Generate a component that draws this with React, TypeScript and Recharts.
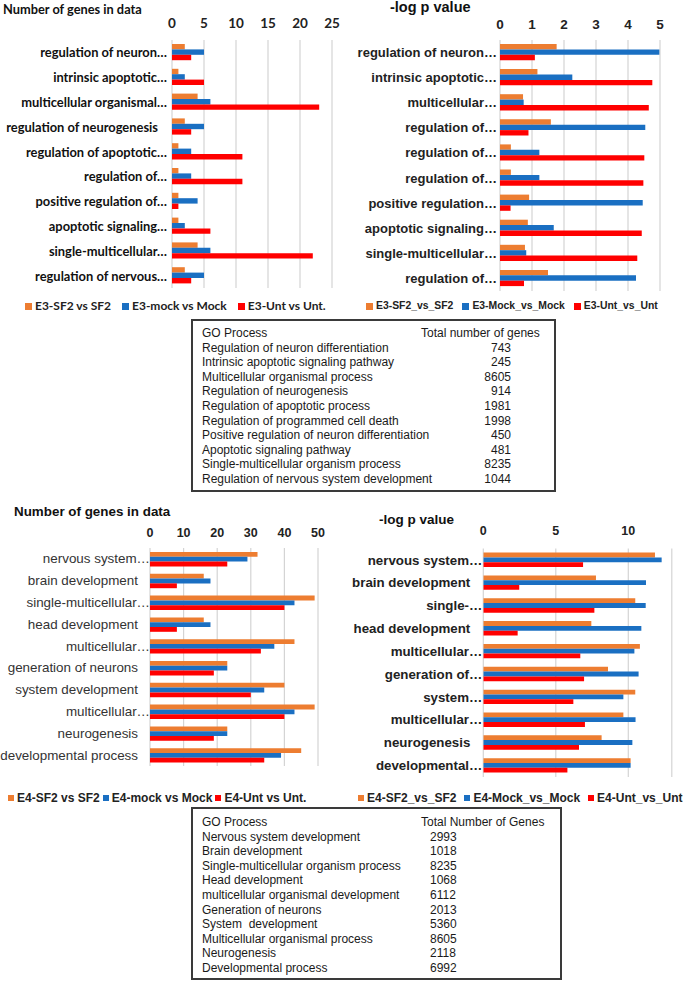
import React from "react";
import { BarChart, Bar, XAxis, YAxis, CartesianGrid } from "recharts";

// E3 — gene counts and -log p, 10 GO processes each
const e3GeneLabels = [
  "regulation of neuron…",
  "intrinsic apoptotic…",
  "multicellular organismal…",
  "regulation of neurogenesis",
  "regulation of apoptotic…",
  "regulation of…",
  "positive regulation of…",
  "apoptotic signaling…",
  "single-multicellular…",
  "regulation of nervous…",
];
const e3GenesSf2 = [2, 1, 4, 2, 1, 1, 1, 1, 4, 2];
const e3GenesMock = [5, 2, 6, 5, 3, 3, 4, 2, 6, 5];
const e3GenesUnt = [3, 5, 23, 3, 11, 11, 1, 6, 22, 3];

const e3PLabels = [
  "regulation of neuron…",
  "intrinsic apoptotic…",
  "multicellular…",
  "regulation of…",
  "regulation of…",
  "regulation of…",
  "positive regulation…",
  "apoptotic signaling…",
  "single-multicellular…",
  "regulation of…",
];
const e3PSf2 = [1.77, 1.17, 0.72, 1.59, 0.34, 0.34, 0.91, 0.87, 0.78, 1.5];
const e3PMock = [4.98, 2.26, 0.74, 4.54, 1.23, 1.23, 4.46, 1.68, 0.82, 4.25];
const e3PUnt = [1.09, 4.76, 4.65, 0.89, 4.51, 4.48, 0.33, 4.43, 4.29, 0.75];

// E4
const e4GeneLabels = [
  "nervous system…",
  "brain development",
  "single-multicellular…",
  "head development",
  "multicellular…",
  "generation of neurons",
  "system development",
  "multicellular…",
  "neurogenesis",
  "developmental process",
];
const e4GenesSf2 = [32, 16, 49, 16, 43, 23, 40, 49, 23, 45];
const e4GenesMock = [29, 18, 43, 18, 37, 23, 34, 43, 23, 39];
const e4GenesUnt = [23, 8, 40, 8, 33, 19, 30, 40, 19, 34];

const e4PLabels = [
  "nervous system…",
  "brain development",
  "single-…",
  "head development",
  "multicellular…",
  "generation of…",
  "system…",
  "multicellular…",
  "neurogenesis",
  "developmental…",
];
const e4PSf2 = [11.84, 7.77, 10.48, 7.45, 10.8, 8.6, 10.48, 9.66, 8.16, 10.16];
const e4PMock = [12.3, 11.22, 11.2, 10.9, 10.42, 10.71, 9.66, 10.5, 10.28, 10.16];
const e4PUnt = [6.88, 2.48, 7.66, 2.37, 6.69, 6.95, 6.21, 7.01, 6.6, 5.8];

// tick values
const e3GeneTicks = [0, 5, 10, 15, 20, 25];
const e3PTicks = [0, 1, 2, 3, 4, 5];
const e4GeneTicks = [0, 10, 20, 30, 40, 50];
const e4PTicks = [0, 5, 10];

// legend names
const e3GeneSeries = ["E3-SF2 vs SF2", "E3-mock vs Mock", "E3-Unt vs Unt."];
const e3PSeries = ["E3-SF2_vs_SF2", "E3-Mock_vs_Mock", "E3-Unt_vs_Unt"];
const e4GeneSeries = ["E4-SF2 vs SF2", "E4-mock vs Mock", "E4-Unt vs Unt."];
const e4PSeries = ["E4-SF2_vs_SF2", "E4-Mock_vs_Mock", "E4-Unt_vs_Unt"];

// tables
const e3TableProcesses = [
  "Regulation of neuron differentiation",
  "Intrinsic apoptotic signaling pathway",
  "Multicellular organismal process",
  "Regulation of neurogenesis",
  "Regulation of apoptotic process",
  "Regulation of programmed cell death",
  "Positive regulation of neuron differentiation",
  "Apoptotic signaling pathway",
  "Single-multicellular organism process",
  "Regulation of nervous system development",
];
const e3TableTotals = [743, 245, 8605, 914, 1981, 1998, 450, 481, 8235, 1044];

const e4TableProcesses = [
  "Nervous system development",
  "Brain development",
  "Single-multicellular organism process",
  "Head development",
  "multicellular organismal development",
  "Generation of neurons",
  "System  development",
  "Multicellular organismal process",
  "Neurogenesis",
  "Developmental process",
];
const e4TableTotals = [2993, 1018, 8235, 1068, 6112, 2013, 5360, 8605, 2118, 6992];

const ORANGE = "#ED7D31";
const BLUE = "#1A6FC2";
const RED = "#FF0000";
const COLORS = [ORANGE, BLUE, RED];

const ARIAL = "'Liberation Sans', Arial, sans-serif";
const CALIBRI = "Lato, 'Open Sans', sans-serif";

const toRows = (a: number[], b: number[], c: number[]) =>
  a.map((v, i) => ({ idx: i, sf2: v, mock: b[i], unt: c[i] }));

type TextStyle = { font: string; size: number; weight: number; color: string };

const yTick =
  (labels: string[], st: TextStyle, gapEll: number, gapPlain: number) =>
  (props: any) => {
    const { x, y, payload } = props;
    const label = labels[payload.value];
    const gap = label.endsWith("…") ? gapEll : gapPlain;
    return (
      <text
        x={x - gap}
        y={y}
        textAnchor="end"
        dominantBaseline="central"
        fontFamily={st.font}
        fontSize={st.size}
        fontWeight={st.weight}
        fill={st.color}
      >
        {label}
      </text>
    );
  };

const xTick = (ty: number, st: TextStyle) => (props: any) => (
  <text
    x={props.x}
    y={ty}
    textAnchor="middle"
    dominantBaseline="central"
    fontFamily={st.font}
    fontSize={st.size}
    fontWeight={st.weight}
    fill={st.color}
  >
    {props.payload.value}
  </text>
);

interface PanelProps {
  left: number;
  top: number;
  width: number;
  height: number;
  axisTop: number;
  yWidth: number;
  right: number;
  domainMax: number;
  ticks: number[];
  tickY: number;
  labels: string[];
  rows: any[];
  barSize: number;
  tickStyle: TextStyle;
  labelStyle: TextStyle;
  gapEll: number;
  gapPlain: number;
}

const Panel = (p: PanelProps) => (
  <div style={{ position: "absolute", left: p.left, top: p.top }}>
    <BarChart
      width={p.width}
      height={p.height}
      data={p.rows}
      layout="vertical"
      margin={{ top: 0, right: p.right, bottom: 0, left: 0 }}
      barGap={0}
      barSize={p.barSize}
    >
      <CartesianGrid horizontal={false} stroke="#d4d4d4" strokeWidth={1.2} />
      <XAxis
        type="number"
        orientation="top"
        height={p.axisTop}
        domain={[0, p.domainMax]}
        ticks={p.ticks}
        axisLine={false}
        tickLine={false}
        tick={xTick(p.tickY, p.tickStyle)}
        allowDataOverflow
      />
      <YAxis
        type="category"
        dataKey="idx"
        width={p.yWidth}
        axisLine={false}
        tickLine={false}
        tickSize={0}
        tickMargin={0}
        interval={0}
        tick={yTick(p.labels, p.labelStyle, p.gapEll, p.gapPlain)}
      />
      <Bar dataKey="sf2" fill={ORANGE} isAnimationActive={false} />
      <Bar dataKey="mock" fill={BLUE} isAnimationActive={false} />
      <Bar dataKey="unt" fill={RED} isAnimationActive={false} />
    </BarChart>
  </div>
);

const Legend = ({
  left,
  top,
  names,
  st,
  gaps,
  box = 7,
}: {
  left: number;
  top: number;
  names: string[];
  st: TextStyle;
  gaps: number[];
  box?: number;
}) => (
  <div
    style={{
      position: "absolute",
      left,
      top,
      display: "flex",
      alignItems: "center",
      whiteSpace: "nowrap",
      fontFamily: st.font,
      fontSize: st.size,
      fontWeight: st.weight,
      color: st.color,
      lineHeight: "14px",
    }}
  >
    {names.map((n, i) => (
      <div key={n} style={{ display: "flex", alignItems: "center", marginRight: gaps[i] }}>
        <span style={{ width: box, height: box, background: COLORS[i], marginRight: 3 }} />
        {n}
      </div>
    ))}
  </div>
);

const GoTable = ({
  left,
  top,
  width,
  height,
  processes,
  totals,
  header,
  headerX,
  valueX,
  numAlign,
  rowTop,
}: {
  left: number;
  top: number;
  width: number;
  height: number;
  processes: string[];
  totals: number[];
  header: string;
  headerX: number;
  valueX: number;
  numAlign: "left" | "right";
  rowTop: number;
}) => {
  const rowH = 14.6;
  const rows = [["GO Process", header], ...processes.map((pr, i) => [pr, String(totals[i])])];
  return (
    <div
      style={{
        position: "absolute",
        left,
        top,
        width,
        height,
        boxSizing: "border-box",
        border: "2px solid #3a3a3a",
        fontFamily: ARIAL,
        fontSize: 12,
        color: "#1a1a1a",
      }}
    >
      {rows.map((r, i) => (
        <React.Fragment key={i}>
          <div
            style={{
              position: "absolute",
              left: 9,
              top: rowTop + i * rowH,
              lineHeight: "14px",
              whiteSpace: "pre",
            }}
          >
            {r[0]}
          </div>
          <div
            style={{
              position: "absolute",
              top: rowTop + i * rowH,
              lineHeight: "14px",
              whiteSpace: "pre",
              ...(i === 0
                ? { left: headerX }
                : numAlign === "left"
                ? { left: valueX }
                : { right: width - valueX - 2 }),
            }}
          >
            {r[1]}
          </div>
        </React.Fragment>
      ))}
    </div>
  );
};

const titleStyle = (font: string, size: number): React.CSSProperties => ({
  position: "absolute",
  fontFamily: font,
  fontSize: size,
  fontWeight: 700,
  color: "#111",
  whiteSpace: "nowrap",
  lineHeight: "16px",
});

export default function App() {
  const calTick: TextStyle = { font: CALIBRI, size: 13.5, weight: 700, color: "#222" };
  const calLabel: TextStyle = { font: CALIBRI, size: 12.9, weight: 700, color: "#111" };
  const arTickB: TextStyle = { font: ARIAL, size: 13.5, weight: 700, color: "#222" };
  const arTick: TextStyle = { font: ARIAL, size: 12.5, weight: 700, color: "#222" };
  const arBoldLabel: TextStyle = { font: ARIAL, size: 13, weight: 700, color: "#222" };
  const arPlainLabel: TextStyle = { font: ARIAL, size: 13.4, weight: 400, color: "#333" };
  const arBoldLabel2: TextStyle = { font: ARIAL, size: 13.3, weight: 700, color: "#222" };

  return (
    <div
      style={{
        position: "absolute",
        left: 0,
        top: 0,
        width: 685,
        height: 981,
        background: "#fff",
        overflow: "hidden",
      }}
    >
      {/* top left: E3 gene counts */}
      <div style={{ ...titleStyle(CALIBRI, 12.8), left: 3, top: 1 }}>Number of genes in data</div>
      <Panel
        left={0}
        top={0}
        width={345}
        height={288}
        axisTop={40}
        yWidth={172}
        right={13}
        domainMax={25}
        ticks={e3GeneTicks}
        tickY={23}
        labels={e3GeneLabels}
        rows={toRows(e3GenesSf2, e3GenesMock, e3GenesUnt)}
        barSize={5.4}
        tickStyle={calTick}
        labelStyle={calLabel}
        gapEll={5}
        gapPlain={14}
      />
      <Legend
        left={25}
        top={299}
        names={e3GeneSeries}
        st={{ font: CALIBRI, size: 12, weight: 700, color: "#222" }}
        gaps={[11, 11, 0]}
      />

      {/* top right: E3 -log p */}
      <div style={{ ...titleStyle(ARIAL, 14.5), left: 390, top: -1 }}>-log p value</div>
      <Panel
        left={340}
        top={0}
        width={345}
        height={291}
        axisTop={40}
        yWidth={160}
        right={25}
        domainMax={5}
        ticks={e3PTicks}
        tickY={24}
        labels={e3PLabels}
        rows={toRows(e3PSf2, e3PMock, e3PUnt)}
        barSize={5.4}
        tickStyle={arTickB}
        labelStyle={arBoldLabel}
        gapEll={3}
        gapPlain={3}
      />
      <Legend
        left={366}
        top={299}
        names={e3PSeries}
        st={{ font: ARIAL, size: 10.4, weight: 700, color: "#222" }}
        gaps={[9, 9, 0]}
      />

      <GoTable
        left={191}
        top={319}
        width={365}
        height={173}
        processes={e3TableProcesses}
        totals={e3TableTotals}
        header="Total number of genes"
        headerX={228}
        valueX={320}
        numAlign="right"
        rowTop={5}
      />

      {/* bottom left: E4 gene counts */}
      <div style={{ ...titleStyle(ARIAL, 13.4), left: 14, top: 504 }}>Number of genes in data</div>
      <Panel
        left={0}
        top={500}
        width={340}
        height={266}
        axisTop={48}
        yWidth={150}
        right={22}
        domainMax={50}
        ticks={e4GeneTicks}
        tickY={33}
        labels={e4GeneLabels}
        rows={toRows(e4GenesSf2, e4GenesMock, e4GenesUnt)}
        barSize={4.8}
        tickStyle={arTick}
        labelStyle={arPlainLabel}
        gapEll={0}
        gapPlain={12}
      />
      <Legend
        left={8}
        top={791}
        names={e4GeneSeries}
        st={{ font: ARIAL, size: 12, weight: 700, color: "#222" }}
        gaps={[3, 3, 0]}
        box={6}
      />

      {/* bottom right: E4 -log p */}
      <div style={{ ...titleStyle(ARIAL, 13.5), left: 379, top: 512 }}>-log p value</div>
      <Panel
        left={340}
        top={500}
        width={345}
        height={277}
        axisTop={48.6}
        yWidth={143.3}
        right={13.2}
        domainMax={13}
        ticks={e4PTicks}
        tickY={31}
        labels={e4PLabels}
        rows={toRows(e4PSf2, e4PMock, e4PUnt)}
        barSize={4.8}
        tickStyle={arTick}
        labelStyle={arBoldLabel2}
        gapEll={1}
        gapPlain={13}
      />
      <Legend
        left={358}
        top={791}
        names={e4PSeries}
        st={{ font: ARIAL, size: 12, weight: 700, color: "#222" }}
        gaps={[8, 8, 0]}
        box={6}
      />

      <GoTable
        left={191}
        top={807}
        width={371}
        height={173}
        processes={e4TableProcesses}
        totals={e4TableTotals}
        header="Total Number of Genes"
        headerX={228}
        valueX={237}
        numAlign="left"
        rowTop={6}
      />
    </div>
  );
}
